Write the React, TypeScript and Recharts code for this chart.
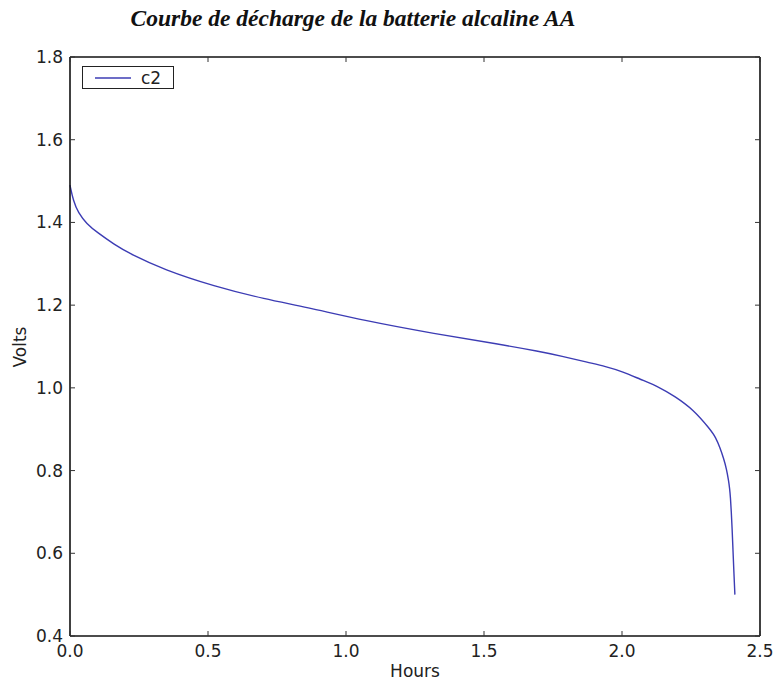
import React from 'react';
import { LineChart, Line, XAxis, YAxis, Legend } from 'recharts';

// discharge curve
const HOURS = [
  0, 0.012, 0.03, 0.06, 0.1, 0.16, 0.22, 0.34, 0.52, 0.71, 0.85, 1.07, 1.32, 1.56, 1.7,
  1.78, 1.88, 1.94, 2.0, 2.065, 2.138, 2.19, 2.258, 2.319, 2.34, 2.355, 2.368, 2.379, 2.386,
  2.39, 2.393, 2.396, 2.399, 2.402, 2.405, 2.409,
];
const VOLTS = [
  1.49, 1.452, 1.423, 1.397, 1.375, 1.347, 1.323, 1.286, 1.246, 1.214, 1.196, 1.162, 1.131,
  1.105, 1.088, 1.077, 1.061, 1.052, 1.04, 1.021, 1.001, 0.98, 0.948, 0.9, 0.88, 0.855, 0.83,
  0.803, 0.776, 0.757, 0.735, 0.7, 0.66, 0.61, 0.56, 0.5,
];
const X_TICKS = [0, 0.5, 1.0, 1.5, 2.0, 2.5];
const Y_TICKS = [0.4, 0.6, 0.8, 1.0, 1.2, 1.4, 1.6, 1.8];
const SERIES_NAME = 'c2';
const TITLE = 'Courbe de décharge de la batterie alcaline AA';

const data = HOURS.map((h, i) => ({ hours: h, volts: VOLTS[i] }));

const FONT = 'DejaVu Sans, sans-serif';
const LINE_COLOR = '#3c3cb4';
const AXIS = { stroke: '#111', strokeWidth: 1.6 };

const BottomTick = (p: any) => (
  <g>
    <line x1={p.x} x2={p.x} y1={p.y} y2={p.y - 5} stroke="#333" strokeWidth={1} />
    <text x={p.x} y={p.y + 21} textAnchor="middle" fontSize={17} fontFamily={FONT} fill="#222">
      {Number(p.payload.value).toFixed(1)}
    </text>
  </g>
);

const LeftTick = (p: any) => (
  <g>
    <line x1={p.x} x2={p.x + 5} y1={p.y} y2={p.y} stroke="#333" strokeWidth={1} />
    <text x={p.x - 7} y={p.y + 6} textAnchor="end" fontSize={17} fontFamily={FONT} fill="#222">
      {Number(p.payload.value).toFixed(1)}
    </text>
  </g>
);

const TopTick = (p: any) => (
  <line x1={p.x} x2={p.x} y1={p.y} y2={p.y + 5} stroke="#333" strokeWidth={1} />
);

const RightTick = (p: any) => (
  <line x1={p.x} x2={p.x - 5} y1={p.y} y2={p.y} stroke="#333" strokeWidth={1} />
);

const LegendBox = () => (
  <div
    style={{
      width: 90,
      height: 21,
      border: '1px solid #222',
      background: '#fff',
      display: 'flex',
      alignItems: 'center',
      fontFamily: FONT,
      fontSize: 17,
      color: '#222',
    }}
  >
    <svg width={56} height={21}>
      <line x1={12} x2={48} y1={11} y2={11} stroke={LINE_COLOR} strokeWidth={1.5} />
    </svg>
    <span style={{ marginLeft: 2 }}>{SERIES_NAME}</span>
  </div>
);

export default function App() {
  return (
    <div style={{ position: 'absolute', left: 0, top: 0, background: '#fff' }}>
      <LineChart width={773} height={682} data={data} margin={{ top: 56, right: 12, bottom: 0, left: 10 }}>
        <text
          x={353}
          y={26}
          textAnchor="middle"
          fontFamily="Liberation Serif, Times New Roman, serif"
          fontWeight="bold"
          fontStyle="italic"
          fontSize={23.5}
          fill="#111"
        >
          {TITLE}
        </text>
        <text
          x={26}
          y={347}
          transform="rotate(-90 26 347)"
          textAnchor="middle"
          fontFamily={FONT}
          fontSize={17}
          fill="#222"
        >
          Volts
        </text>
        <text x={415} y={677} textAnchor="middle" fontFamily={FONT} fontSize={17} fill="#222">
          Hours
        </text>
        <XAxis
          dataKey="hours"
          type="number"
          domain={[0, 2.5]}
          ticks={X_TICKS}
          interval={0}
          height={46}
          tickSize={0}
          tickMargin={0}
          axisLine={AXIS}
          tickLine={false}
          tick={<BottomTick />}
        />
        <XAxis
          xAxisId="top"
          orientation="top"
          dataKey="hours"
          type="number"
          domain={[0, 2.5]}
          ticks={X_TICKS}
          interval={0}
          height={1}
          tickSize={0}
          tickMargin={0}
          axisLine={AXIS}
          tickLine={false}
          tick={<TopTick />}
        />
        <YAxis
          type="number"
          domain={[0.4, 1.8]}
          ticks={Y_TICKS}
          interval={0}
          width={60}
          tickSize={0}
          tickMargin={0}
          axisLine={AXIS}
          tickLine={false}
          tick={<LeftTick />}
        />
        <YAxis
          yAxisId="right"
          orientation="right"
          type="number"
          domain={[0.4, 1.8]}
          ticks={Y_TICKS}
          interval={0}
          width={1}
          tickSize={0}
          tickMargin={0}
          axisLine={AXIS}
          tickLine={false}
          tick={<RightTick />}
        />
        <Legend
          layout="horizontal"
          verticalAlign="middle"
          content={<LegendBox />}
          wrapperStyle={{ position: 'absolute', left: 82, top: 66, width: 'auto' }}
        />
        {/* invisible twin so the top/right frame axes get drawn */}
        <Line
          xAxisId="top"
          yAxisId="right"
          type="basis"
          dataKey="volts"
          stroke="none"
          dot={false}
          activeDot={false}
          legendType="none"
          isAnimationActive={false}
        />
        <Line
          type="basis"
          dataKey="volts"
          name={SERIES_NAME}
          stroke={LINE_COLOR}
          strokeWidth={1.4}
          dot={false}
          isAnimationActive={false}
        />
      </LineChart>
    </div>
  );
}
